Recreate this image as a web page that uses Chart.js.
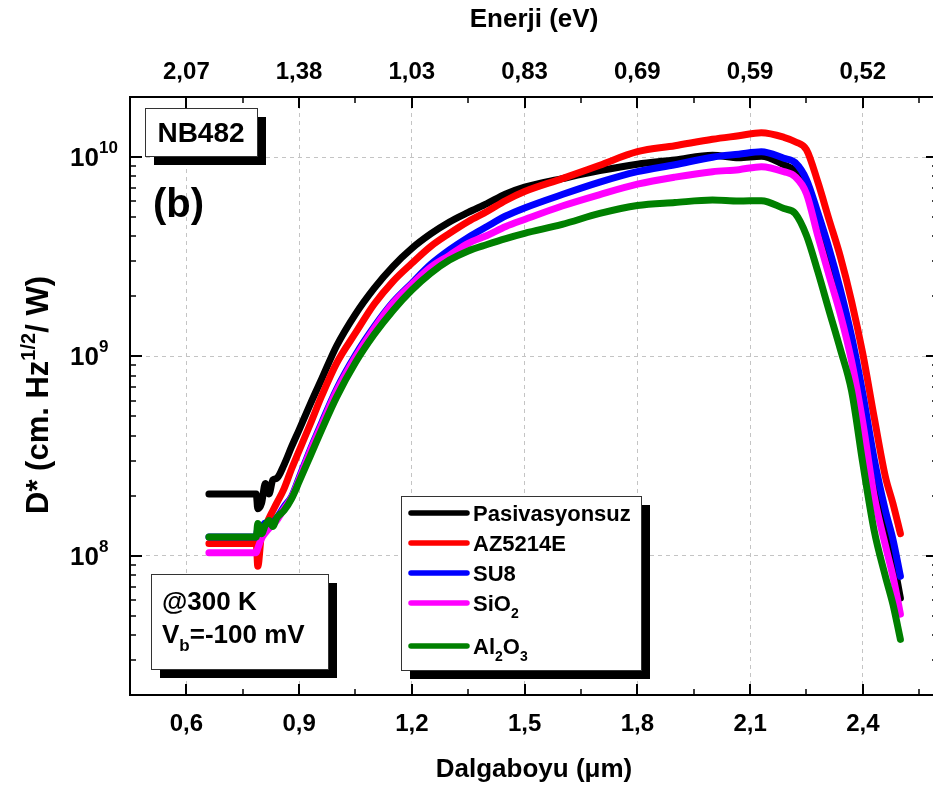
<!DOCTYPE html>
<html>
<head>
<meta charset="utf-8">
<script src="https://cdn.jsdelivr.net/npm/chart.js@4.4.1/dist/chart.umd.min.js"></script>
<style>
  html, body { margin: 0; padding: 0; background: #fff; overflow: hidden; }
  canvas { display: block; }
</style>
</head>
<body>
<canvas id="dstar" width="950" height="796"></canvas>
<script>
const FONT = '"Liberation Sans", Arial, Helvetica, sans-serif';

// wavelength grid (µm) shared by all five samples
const wavelength = [0.66, 0.786, 0.79, 0.80, 0.81, 0.82, 0.83, 0.84, 0.86, 0.88,
  0.90, 0.93, 0.96, 1.00, 1.05, 1.10, 1.15, 1.20, 1.25, 1.30,
  1.35, 1.40, 1.45, 1.50, 1.60, 1.70, 1.80, 1.90, 2.00, 2.07,
  2.13, 2.19, 2.22, 2.25, 2.28, 2.31, 2.34, 2.37, 2.40, 2.43,
  2.46, 2.48, 2.50];

// D* (cm Hz^1/2 / W)
const pasivasyonsuz = [2.04e8, 2.04e8, 1.72e8, 1.83e8, 2.30e8, 2.04e8, 2.40e8, 2.44e8, 2.86e8, 3.52e8,
  4.28e8, 5.78e8, 7.70e8, 1.13e9, 1.63e9, 2.20e9, 2.83e9, 3.48e9, 4.11e9, 4.72e9,
  5.27e9, 5.84e9, 6.52e9, 7.06e9, 7.79e9, 8.54e9, 9.20e9, 9.66e9, 1.02e10, 9.92e9,
  1.01e10, 9.15e9, 8.54e9, 7.44e9, 4.75e9, 3.00e9, 1.89e9, 1.09e9, 5.45e8, 2.44e8,
  1.37e8, 9.69e7, 6.12e7];
const az5214e = [1.15e8, 1.15e8, 8.84e7, 1.29e8, 1.40e8, 1.54e8, 1.68e8, 1.83e8, 2.17e8, 2.73e8,
  3.36e8, 4.59e8, 6.33e8, 9.26e8, 1.31e9, 1.83e9, 2.38e9, 2.93e9, 3.56e9, 4.14e9,
  4.75e9, 5.33e9, 6.05e9, 6.71e9, 7.79e9, 9.10e9, 1.063e10, 1.139e10, 1.227e10, 1.278e10,
  1.323e10, 1.256e10, 1.193e10, 1.088e10, 7.52e9, 4.86e9, 3.17e9, 1.89e9, 1.027e9, 4.97e8,
  2.49e8, 1.83e8, 1.29e8];
const su8 = [1.24e8, 1.24e8, 1.37e8, 1.40e8, 1.46e8, 1.45e8, 1.47e8, 1.54e8, 1.76e8, 1.98e8,
  2.46e8, 3.42e8, 4.64e8, 6.86e8, 1.015e9, 1.41e9, 1.87e9, 2.33e9, 2.89e9, 3.42e9,
  3.95e9, 4.48e9, 5.06e9, 5.55e9, 6.48e9, 7.48e9, 8.44e9, 9.15e9, 9.98e9, 1.033e10,
  1.063e10, 9.86e9, 9.37e9, 7.70e9, 5.27e9, 3.48e9, 2.17e9, 1.26e9, 6.48e8, 3.07e8,
  1.685e8, 1.21e8, 7.88e7];
const sio2 = [1.035e8, 1.035e8, 1.088e8, 1.22e8, 1.30e8, 1.37e8, 1.43e8, 1.50e8, 1.72e8, 1.957e8,
  2.41e8, 3.36e8, 4.53e8, 6.71e8, 9.92e8, 1.385e9, 1.85e9, 2.30e9, 2.80e9, 3.21e9,
  3.69e9, 4.04e9, 4.48e9, 4.86e9, 5.68e9, 6.48e9, 7.31e9, 7.93e9, 8.44e9, 8.64e9,
  8.94e9, 8.44e9, 7.97e9, 6.55e9, 4.04e9, 2.55e9, 1.63e9, 9.47e8, 4.64e8, 2.00e8,
  1.126e8, 7.88e7, 5.09e7];
const al2o3 = [1.24e8, 1.24e8, 1.45e8, 1.29e8, 1.42e8, 1.50e8, 1.40e8, 1.54e8, 1.685e8, 1.934e8,
  2.35e8, 3.17e8, 4.28e8, 6.26e8, 9.31e8, 1.29e9, 1.70e9, 2.15e9, 2.61e9, 3.04e9,
  3.38e9, 3.64e9, 3.90e9, 4.14e9, 4.59e9, 5.21e9, 5.71e9, 5.91e9, 6.08e9, 6.01e9,
  6.04e9, 5.51e9, 5.21e9, 4.04e9, 2.67e9, 1.70e9, 1.088e9, 6.71e8, 2.90e8, 1.34e8,
  7.88e7, 5.71e7, 3.80e7];

// legend labels, "_" marks a subscript character
const seriesLabels = ['Pasivasyonsuz', 'AZ5214E', 'SU8', 'SiO_2', 'Al_2O_3'];
const seriesColors = ['#000000', '#ff0000', '#0000ff', '#ff00ff', '#008000'];
const seriesValues = [pasivasyonsuz, az5214e, su8, sio2, al2o3];

const xMajor = [0.6, 0.9, 1.2, 1.5, 1.8, 2.1, 2.4];
const xMinor = [0.45, 0.75, 1.05, 1.35, 1.65, 1.95, 2.25, 2.55];
const energyLabels = ['2,07', '1,38', '1,03', '0,83', '0,69', '0,59', '0,52'];
const yDecades = [8, 9, 10];

function parseSub(s) {
  const parts = [];
  s.split(/(_\w)/).forEach(p => {
    if (!p) return;
    if (p[0] === '_') parts.push({ t: p[1], sub: true });
    else parts.push({ t: p });
  });
  return parts;
}

// draws text runs with sub/superscripts, returns the total width
function drawRuns(ctx, parts, x, y, size, align) {
  const fontOf = p => 'bold ' + (p.sub || p.sup ? Math.round(size * 0.65) : size) + 'px ' + FONT;
  let w = 0;
  parts.forEach(p => { ctx.font = fontOf(p); w += ctx.measureText(p.t).width; });
  let cx = align === 'center' ? x - w / 2 : align === 'right' ? x - w : x;
  ctx.textAlign = 'left';
  ctx.textBaseline = 'alphabetic';
  parts.forEach(p => {
    ctx.font = fontOf(p);
    const dy = p.sub ? size * 0.3 : p.sup ? -size * 0.42 : 0;
    ctx.fillText(p.t, cx, y + dy);
    cx += ctx.measureText(p.t).width;
  });
  return w;
}

function shadowBox(ctx, x, y, w, h) {
  ctx.fillStyle = '#000';
  ctx.fillRect(x + 9, y + 9, w, h);
  ctx.fillStyle = '#fff';
  ctx.fillRect(x, y, w, h);
  ctx.strokeStyle = '#333';
  ctx.lineWidth = 1;
  ctx.strokeRect(x + 0.5, y + 0.5, w, h);
}

const decorations = {
  id: 'decorations',
  afterDraw(chart) {
    const { ctx, chartArea: a } = chart;
    const xs = chart.scales.x, ys = chart.scales.y;
    ctx.save();

    // frame and inward ticks
    ctx.strokeStyle = '#000';
    ctx.lineWidth = 2;
    ctx.strokeRect(a.left, a.top, a.right - a.left, a.bottom - a.top);
    const tick = (x1, y1, x2, y2, w) => {
      ctx.lineWidth = w;
      ctx.beginPath(); ctx.moveTo(x1, y1); ctx.lineTo(x2, y2); ctx.stroke();
    };
    xMajor.forEach(v => {
      const px = Math.round(xs.getPixelForValue(v));
      tick(px, a.bottom, px, a.bottom - 11, 2);
      tick(px, a.top, px, a.top + 11, 2);
    });
    xMinor.forEach(v => {
      const px = Math.round(xs.getPixelForValue(v));
      tick(px, a.bottom, px, a.bottom - 6, 1.5);
      tick(px, a.top, px, a.top + 6, 1.5);
    });
    for (let e = 7; e <= 10; e++) {
      for (let k = 1; k <= 9; k++) {
        const v = k * Math.pow(10, e);
        if (v < 2e7 || v > 2e10) continue;
        const py = Math.round(ys.getPixelForValue(v));
        const len = k === 1 ? 12 : 6;
        const w = k === 1 ? 2 : 1.5;
        tick(a.left, py, a.left + len, py, w);
        tick(a.right, py, a.right - len, py, w);
      }
    }

    // tick labels
    ctx.fillStyle = '#000';
    xMajor.forEach((v, i) => {
      const px = xs.getPixelForValue(v);
      drawRuns(ctx, [{ t: v.toFixed(1).replace('.', ',') }], px, 731, 24, 'center');
      drawRuns(ctx, [{ t: energyLabels[i] }], px, 79, 24, 'center');
    });
    yDecades.forEach(e => {
      const py = ys.getPixelForValue(Math.pow(10, e));
      ctx.font = 'bold 26px ' + FONT;
      ctx.textAlign = 'right';
      ctx.fillText('10', 99, py + 9);
      ctx.font = 'bold 17px ' + FONT;
      ctx.textAlign = 'left';
      ctx.fillText(String(e), 99, py - 4);
    });

    // axis titles
    const midX = (a.left + a.right) / 2;
    drawRuns(ctx, [{ t: 'Dalgaboyu (μm)' }], midX, 777, 26, 'center');
    drawRuns(ctx, [{ t: 'Enerji (eV)' }], midX, 27, 26, 'center');
    ctx.save();
    ctx.translate(38, 395);
    ctx.rotate(-Math.PI / 2);
    drawRuns(ctx, [{ t: 'D* (cm. Hz' }, { t: '1/2', sup: true }, { t: '/ W)' }], 0, 10, 31, 'center');
    ctx.restore();

    // sample name and panel letter
    shadowBox(ctx, 145, 108, 112, 48);
    ctx.fillStyle = '#000';
    drawRuns(ctx, [{ t: 'NB482' }], 201, 142, 28, 'center');
    drawRuns(ctx, [{ t: '(b)' }], 153, 217, 40, 'left');

    // measurement conditions
    shadowBox(ctx, 151, 574, 177, 95);
    ctx.fillStyle = '#000';
    drawRuns(ctx, [{ t: '@300 K' }], 162, 610, 26, 'left');
    drawRuns(ctx, [{ t: 'V' }, { t: 'b', sub: true }, { t: '=-100 mV' }], 162, 643, 26, 'left');

    // legend
    const legendRows = [513, 543, 573, 603, 646];
    shadowBox(ctx, 401, 496, 240, 174);
    ctx.lineCap = 'round';
    seriesLabels.forEach((lbl, i) => {
      const ly = legendRows[i];
      ctx.strokeStyle = seriesColors[i];
      ctx.lineWidth = 5.5;
      ctx.beginPath(); ctx.moveTo(411, ly); ctx.lineTo(467, ly); ctx.stroke();
      ctx.fillStyle = '#000';
      drawRuns(ctx, parseSub(lbl), 473, ly + 8, 22, 'left');
    });

    ctx.restore();
  }
};

const datasets = seriesValues.map((vals, i) => ({
  label: seriesLabels[i].replace(/_/g, ''),
  data: wavelength.map((w, k) => ({ x: w, y: vals[k] })),
  borderColor: seriesColors[i],
  borderWidth: 7,
  borderCapStyle: 'round',
  borderJoinStyle: 'round',
  cubicInterpolationMode: 'monotone',
  pointRadius: 0,
  fill: false,
  order: seriesValues.length - i
}));

new Chart(document.getElementById('dstar'), {
  type: 'line',
  data: { datasets: datasets },
  options: {
    responsive: false,
    animation: false,
    events: [],
    layout: { padding: { left: 130, top: 97, right: 12, bottom: 101 } },
    plugins: { legend: { display: false }, tooltip: { enabled: false } },
    scales: {
      x: {
        type: 'linear',
        min: 0.45,
        max: 2.6,
        afterBuildTicks: s => { s.ticks = xMajor.map(v => ({ value: v })); },
        ticks: { display: false },
        grid: { color: '#c4c4c4', lineWidth: 1, drawTicks: false },
        border: { display: false, dash: [4, 4] }
      },
      y: {
        type: 'logarithmic',
        min: 2e7,
        max: 2e10,
        afterBuildTicks: s => { s.ticks = yDecades.map(e => ({ value: Math.pow(10, e) })); },
        ticks: { display: false },
        grid: { color: '#c4c4c4', lineWidth: 1, drawTicks: false },
        border: { display: false, dash: [4, 4] }
      }
    }
  },
  plugins: [decorations]
});
</script>
</body>
</html>
